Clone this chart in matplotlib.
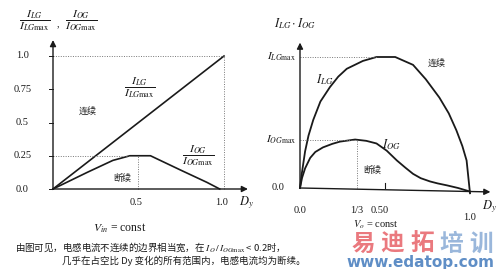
import matplotlib
matplotlib.use("Agg")
import matplotlib.pyplot as plt

plt.rcParams['font.family'] = ['Liberation Serif', 'Noto Sans CJK SC', 'DejaVu Sans']
plt.rcParams['mathtext.fontset'] = 'stix'

W, H = 500, 269
CJK = ['Noto Sans CJK SC', 'DejaVu Sans']
INK = '#1a1a1a'

# left panel: normalised boundary currents vs duty cycle
left_lg_d = [0.0, 1.0]
left_lg_i = [0.0, 1.0]
left_og_d = [0.0, 0.2, 0.35, 0.45, 0.57, 0.75, 0.9, 0.975]
left_og_i = [0.0, 0.125, 0.215, 0.25, 0.25, 0.14, 0.05, 0.0]
left_yticks = [0.0, 0.25, 0.5, 0.75, 1.0]
left_ylabels = ['0.0', '0.25', '0.5', '0.75', '1.0']
left_xticks = [0.5, 1.0]
left_xlabels = ['0.5', '1.0']

# right panel: absolute boundary currents (Vo = const)
right_lg_d = [0.0, 0.01, 0.03, 0.05, 0.078, 0.12, 0.176, 0.225, 0.275, 0.37, 0.45,
              0.56, 0.665, 0.74, 0.82, 0.875, 0.92, 0.955, 0.98, 1.0]
right_lg_i = [0.0, 0.105, 0.28, 0.40, 0.52, 0.66, 0.77, 0.85, 0.91, 0.97, 1.0,
              1.0, 0.94, 0.83, 0.69, 0.57, 0.44, 0.32, 0.21, -0.04]
right_og_d = [0.0, 0.012, 0.03, 0.06, 0.09, 0.135, 0.19, 0.235, 0.324, 0.39, 0.45,
              0.51, 0.57, 0.62, 0.665, 0.71, 0.765, 0.81, 0.865, 0.93, 1.0]
right_og_i = [0.0, 0.077, 0.15, 0.23, 0.275, 0.31, 0.337, 0.354, 0.37, 0.36, 0.34,
              0.285, 0.21, 0.155, 0.108, 0.075, 0.05, 0.035, 0.02, 0.0, -0.027]
og_peak_d = 1 / 3
og_peak_i = 0.37
right_xticks = [0.0, 1 / 3, 0.5, 1.0]
right_xlabels = ['0.0', '1/3', '0.50', '1.0']

watermark_chars = ['易', '迪', '拓', '培', '训']
watermark_colors = ['#e86a70', '#e86a70', '#e86a70', '#8fb0d8', '#8fb0d8']


def place(fig, ox, oy, sx, sy, x0, x1, y0, y1):
    # axes given in pixel box; origin (ox, oy) and px-per-unit scales
    ax = fig.add_axes([x0 / W, 1 - y1 / H, (x1 - x0) / W, (y1 - y0) / H])
    ax.set_xlim((x0 - ox) / sx, (x1 - ox) / sx)
    ax.set_ylim((oy - y1) / sy, (oy - y0) / sy)
    ax.axis('off')
    return ax


def arrow(ax, x0, y0, x1, y1):
    ax.annotate('', xy=(x1, y1), xytext=(x0, y0),
                arrowprops=dict(arrowstyle='-|>', color=INK, lw=1.0,
                                mutation_scale=9, shrinkA=0, shrinkB=0))


def ftext(fig, x, y, s, size=8, **kw):
    kw.setdefault('ha', 'center')
    kw.setdefault('va', 'center')
    kw.setdefault('color', INK)
    fig.text(x / W, 1 - y / H, s, fontsize=size, **kw)


fig = plt.figure(figsize=(W / 100, H / 100), dpi=100)
fig.patch.set_facecolor('white')

# ---------- left ----------
axl = place(fig, 53, 189, 171, 133, 0, 250, 0, 225)
arrow(axl, 0, 0, 1.14, 0)
arrow(axl, 0, 0, 0, 1.12)
axl.plot(left_lg_d, left_lg_i, color=INK, lw=1.2)
axl.plot(left_og_d, left_og_i, color=INK, lw=1.2)
dot = dict(color='#777777', lw=0.7, ls=(0, (1, 1.5)))
axl.plot([0, 1.0], [1.0, 1.0], **dot)
axl.plot([1.0, 1.0], [0, 1.0], **dot)
axl.plot([0, 0.45], [0.25, 0.25], **dot)
axl.plot([0.5, 0.5], [0, 0.25], **dot)
for v, s in zip(left_yticks, left_ylabels):
    axl.plot([-0.025, 0], [v, v], color=INK, lw=0.7)
    axl.annotate(s, (0, v), xytext=(-22, 0), textcoords='offset points',
                 ha='center', va='center', fontsize=7.5, color=INK)
for v, s in zip(left_xticks, left_xlabels):
    axl.annotate(s, (v, 0), xytext=(-2, -10), textcoords='offset points',
                 ha='center', va='center', fontsize=7.5, color=INK)

ftext(fig, 35, 21, r'$\dfrac{I_{LG}}{I_{LG\mathrm{max}}}$', 8.5)
ftext(fig, 58, 24, ',', 7)
ftext(fig, 81, 21, r'$\dfrac{I_{OG}}{I_{OG\mathrm{max}}}$', 8.5)
ftext(fig, 140, 88, r'$\dfrac{I_{LG}}{I_{LG\mathrm{max}}}$', 8.5)
ftext(fig, 198, 156, r'$\dfrac{I_{OG}}{I_{OG\mathrm{max}}}$', 8.5)
ftext(fig, 88, 111, '连续', 6.5, family=CJK)
ftext(fig, 122, 178, '断续', 6.5, family=CJK)
ftext(fig, 246, 203, r'$D_y$', 9)
ftext(fig, 120, 228, r'$V_{in}$ = const', 8.5)

# ---------- right ----------
axr = place(fig, 300, 188, 170, 131, 255, 500, 0, 225)
arrow(axr, 0, 0, 1.12, -0.03)
arrow(axr, 0, 0, 0, 1.11)
axr.plot(right_lg_d, right_lg_i, color=INK, lw=1.3)
axr.plot(right_og_d, right_og_i, color=INK, lw=1.3)
axr.plot([0, 0.45], [1.0, 1.0], **dot)
axr.plot([0, og_peak_d], [og_peak_i, og_peak_i], **dot)
axr.plot([og_peak_d, og_peak_d], [0, og_peak_i], **dot)
axr.plot([0.5, 0.5], [0, 0.04], color=INK, lw=0.8)
for v, s in zip(right_xticks, right_xlabels):
    dx = -4 if v == 0.5 else 0
    yo = -21 if v == 1.0 else -16
    axr.annotate(s, (v, 0), xytext=(dx, yo), textcoords='offset points',
                 ha='center', va='center', fontsize=7.5, color=INK)
axr.annotate('0.0', (0, 0), xytext=(-16, 0), textcoords='offset points',
             ha='center', va='center', fontsize=7.5, color=INK)
axr.annotate(r'$I_{OG\mathrm{max}}$', (0, og_peak_i), xytext=(-3, 0),
             textcoords='offset points', ha='right', va='center', fontsize=8, color=INK)
axr.annotate(r'$I_{LG\mathrm{max}}$', (0, 1.0), xytext=(-3, 0),
             textcoords='offset points', ha='right', va='center', fontsize=8, color=INK)

ftext(fig, 295, 24, r'$I_{LG}\cdot I_{OG}$', 9)
ftext(fig, 325, 80, r'$I_{LG}$', 9)
ftext(fig, 391, 145, r'$I_{OG}$', 9)
ftext(fig, 437, 63, '连续', 6.5, family=CJK)
ftext(fig, 372, 170, '断续', 6.5, family=CJK)
ftext(fig, 489, 207, r'$D_y$', 9)

# caption
ftext(fig, 15, 247, '由图可见，电感电流不连续的边界相当宽，在 $I_O\\,/\\,I_{OG\\mathrm{max}}$ < 0.2时，',
      6.8, ha='left', family=CJK)
ftext(fig, 62, 261, '几乎在占空比 Dy 变化的所有范围内，电感电流均为断续。', 6.8, ha='left', family=CJK)

# watermark
for k, (ch, col) in enumerate(zip(watermark_chars, watermark_colors)):
    ftext(fig, 363 + 29.5 * k, 244, ch, 17, family=CJK, color=col, weight='heavy', alpha=0.9)
ftext(fig, 420, 262, 'www.edatop.com', 11, family=['DejaVu Sans'], color='#5f8ec6', weight='bold')
ftext(fig, 376, 225, r'$V_o$ = const', 7.5, color=INK)

fig.savefig('out.png', dpi=100, facecolor='white')
